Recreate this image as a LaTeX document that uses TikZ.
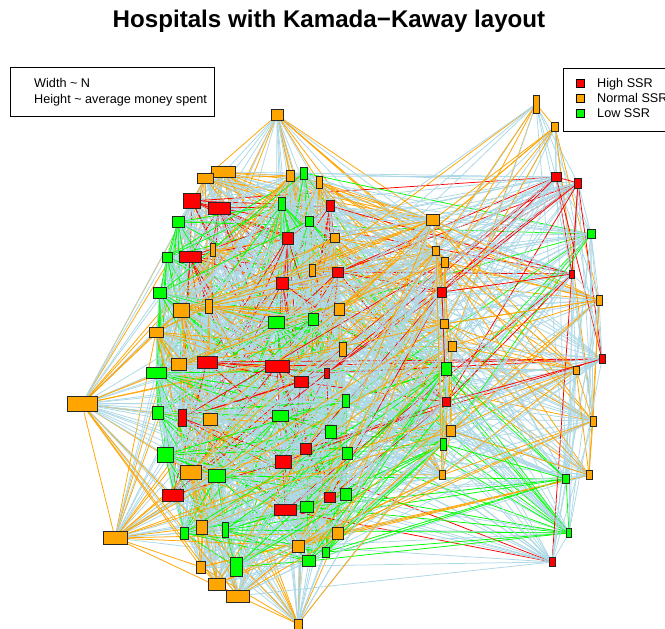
\documentclass[tikz,border=0pt]{standalone}
\usepackage{fontspec}
\setmainfont{Liberation Sans}
\definecolor{cR}{HTML}{FF0000}
\definecolor{cO}{HTML}{FFA500}
\definecolor{cG}{HTML}{00FF00}
\definecolor{elb}{HTML}{ADD8E6}
\pgfdeclarelayer{paper}
\pgfdeclarelayer{edgesbg}
\pgfsetlayers{paper,edgesbg,main}
\tikzset{
  hnode/.style={draw=black!85, line width=0.8pt, inner sep=0pt, outer sep=0pt, rectangle},
  edge/.style={line width=0.65pt},
  legtext/.style={font=\fontsize{10.8pt}{12pt}\selectfont, anchor=base west, inner sep=0pt},
  legkey/.style={draw=black, line width=0.8pt, minimum width=8*0.03cm, minimum height=8*0.03cm, inner sep=0pt},
  legbox/.style={draw=black, line width=0.8pt}
}
% same-colour pairs get that colour, mixed pairs light blue
\newcommand\edgepass{%
\pgfmathsetseed{4711}%
\foreach \i in {0,...,88}{
  \edef\xa{\csname nx\i\endcsname}\edef\ya{\csname ny\i\endcsname}\edef\ta{\csname nt\i\endcsname}
  \pgfmathtruncatemacro\js{\i+1}
  \foreach \j in {\js,...,89}{
    \edef\xb{\csname nx\j\endcsname}\edef\yb{\csname ny\j\endcsname}\edef\tb{\csname nt\j\endcsname}
    \pgfmathsetmacro\kk{1-(min(\ya,\yb)<135)*(max(\xa,\xb)>500)*(abs(\ya-\yb)<0.7*abs(\xa-\xb))}
    \pgfmathsetmacro\pp{\kk*0.85*exp(-((veclen(\xa-\xb,\ya-\yb)/330)^2))}
    \pgfmathsetmacro\rr{rnd}
    \ifdim\rr pt<\pp pt
      \ifx\ta\tb
        \draw[edge, draw=\ta] (n\i.center) -- (n\j.center);
      \else
        \draw[edge, draw=elb] (n\i.center) -- (n\j.center);
      \fi
    \fi
  }
}}
\begin{document}
\begin{tikzpicture}[x=0.03cm,y=-0.03cm]
\useasboundingbox (0,0) rectangle (665,629);
\clip (0,0) rectangle (665,629);
\begin{pgfonlayer}{paper}
\fill[white] (0,0) rectangle (665,629);
\end{pgfonlayer}
% nodes: x/y/w/h/colour
\foreach \x/\y/\w/\h/\t [count=\k from 0] in {
277/115/12/11/cO, 223/172/24/11/cO, 205/178/16/10/cO, 192/201/17/15/cR,
219/208/22/12/cR, 178/222/12/11/cG, 167/257/10/10/cG, 190/257/22/11/cR,
213/250/5/13/cO, 290/176/8/11/cO, 304/173/7/12/cG, 319/182/6/12/cO,
282/204/7/13/cG, 330/206/8/11/cR, 309/221/8/10/cG, 288/238/11/12/cR,
335/238/9/9/cO, 312/270/6/12/cO, 338/272/11/10/cR, 282/283/12/12/cR,
160/293/13/11/cG, 181/310/16/14/cO, 209/306/7/14/cO, 156/332/14/10/cO,
276/322/16/12/cG, 313/319/10/12/cG, 339/309/10/12/cO, 343/349/7/14/cO,
179/364/15/12/cO, 207/362/20/12/cR, 156/373/20/11/cG, 277/366/24/12/cR,
301/382/14/11/cR, 327/373/5/10/cR, 346/401/7/13/cG, 158/413/11/13/cG,
182/418/8/17/cR, 210/419/14/12/cO, 280/416/16/11/cG, 331/432/11/13/cG,
306/449/11/11/cR, 347/453/10/12/cG, 165/455/16/15/cG, 283/462/16/13/cR,
191/472/21/14/cO, 217/476/17/13/cG, 173/495/21/12/cR, 330/497/11/10/cR,
346/494/11/12/cG, 285/510/22/11/cR, 307/507/13/11/cG, 202/527/11/14/cO,
184/533/8/12/cG, 225/530/6/15/cG, 338/533/11/12/cO, 298/546/12/12/cO,
326/552/7/10/cG, 309/561/13/11/cG, 201/567/9/12/cO, 236/567/12/19/cG,
217/584/17/12/cO, 238/596/23/12/cO, 298/624/8/10/cO, 82/404/30/15/cO,
115/538/24/13/cO, 536/104/6/18/cO, 555/127/7/9/cO, 556/177/10/9/cR,
578/183/7/10/cR, 433/220/13/11/cO, 591/234/8/9/cG, 436/251/7/9/cO,
445/262/7/10/cO, 572/274/5/8/cR, 442/292/9/10/cR, 599/300/6/10/cO,
444/324/8/9/cO, 452/346/8/10/cO, 446/369/10/13/cG, 602/359/6/9/cR,
576/370/6/8/cO, 446/402/8/9/cR, 593/421/6/10/cO, 451/431/9/11/cO,
443/444/6/12/cG, 442/475/6/9/cO, 566/479/7/9/cG, 589/475/6/9/cO,
569/533/5/9/cG, 552/562/6/9/cR}{
  \node[hnode, fill=\t, minimum width=\w*0.03cm, minimum height=\h*0.03cm] (n\k) at (\x,\y) {};
  \expandafter\xdef\csname nx\k\endcsname{\x}
  \expandafter\xdef\csname ny\k\endcsname{\y}
  \expandafter\xdef\csname nt\k\endcsname{\t}
}
% connectors
\begin{pgfonlayer}{edgesbg}
\edgepass
\draw[edge, draw=cO] (n65.center) -- (n66.center);
\end{pgfonlayer}
% title
\node[font=\fontsize{20.6pt}{24pt}\selectfont\bfseries, anchor=base, inner sep=0pt] (title) at (329,28) {Hospitals with Kamada−Kaway layout};
% left legend
\node[legbox, fill=white, minimum width=204*0.03cm, minimum height=49*0.03cm, anchor=north west] (legL) at (10,67) {};
\node[legtext] (legW) at (34,87.5) {Width \textasciitilde{} N};
\node[legtext] (legH) at (34,103.5) {Height \textasciitilde{} average money spent};
% right legend
\node[legbox, fill=white, minimum width=120*0.03cm, minimum height=63*0.03cm, anchor=north west] (legR) at (563,68) {};
\node[legkey, fill=cR] (kR) at (580,83) {};
\node[legkey, fill=cO] (kO) at (580,98) {};
\node[legkey, fill=cG] (kG) at (580,113) {};
\node[legtext] (tR) at (597,87.5) {High SSR};
\node[legtext] (tO) at (597,102.5) {Normal SSR};
\node[legtext] (tG) at (597,117.5) {Low SSR};
\end{tikzpicture}
\end{document}
